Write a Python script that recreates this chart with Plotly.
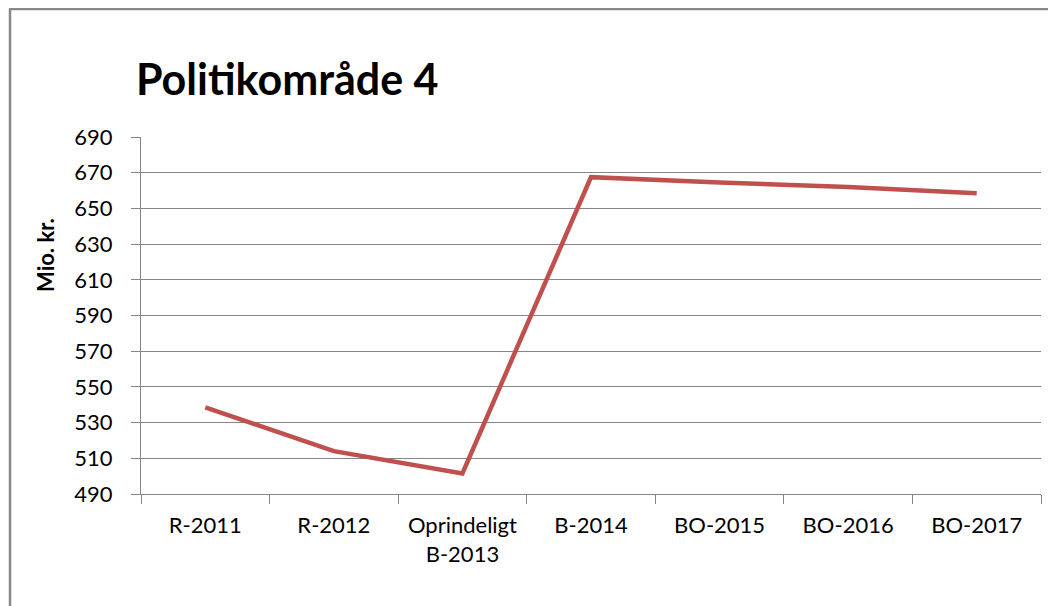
import plotly.graph_objects as go

# categories and values (Mio. kr.)
categories = ["R-2011", "R-2012", "Oprindeligt<br>B-2013", "B-2014", "BO-2015", "BO-2016", "BO-2017"]
values = [538.5, 514, 501.5, 667.5, 664.5, 662, 658.5]
y_ticks = [490, 510, 530, 550, 570, 590, 610, 630, 650, 670, 690]

# page is drawn with an 8px body margin, so work in page pixels and shift
OFF = 8
W, H = 1056 - OFF, 606 - OFF
L, R, T, B = 141, 1041, 137, 494  # plot area, page pixels


def px_x(p):
    return (p - L) / (R - L)


def px_y(p):
    return (B - p) / (B - T)


fig = go.Figure()
fig.add_trace(go.Scatter(
    x=categories,
    y=values,
    mode="lines",
    line=dict(color="#C0504D", width=4.5),
    showlegend=False,
))

grey = "#868686"
font = "Lato, 'Open Sans', sans-serif"

fig.update_layout(
    width=W, height=H,
    margin=dict(l=L - OFF, r=W - (R - OFF), t=T - OFF, b=H - (B - OFF), pad=0),
    paper_bgcolor="white",
    plot_bgcolor="white",
    font=dict(family=font, size=22, color="#000000"),
    xaxis=dict(
        type="category",
        showgrid=False,
        showline=True, linecolor=grey, linewidth=1,
        ticks="outside", tickson="boundaries", ticklen=9, tickcolor=grey,
        ticklabelstandoff=12,
        tickfont=dict(size=22),
        range=[-0.5, 6.5],
    ),
    yaxis=dict(
        range=[490, 690],
        tickvals=y_ticks,
        showgrid=True, gridcolor=grey, gridwidth=1,
        showline=True, linecolor=grey, linewidth=1,
        ticks="outside", ticklen=9, tickcolor=grey,
        ticklabelstandoff=14,
        tickfont=dict(size=22),
        zeroline=False,
    ),
    annotations=[
        dict(text="<b>Politikområde 4</b>", xref="paper", yref="paper",
             x=px_x(134), y=px_y(79), xanchor="left", yanchor="middle",
             showarrow=False, font=dict(size=43, family=font)),
        dict(text="<b>Mio. kr.</b>", xref="paper", yref="paper",
             x=px_x(45), y=px_y(255), xanchor="center", yanchor="middle",
             textangle=-90, showarrow=False, font=dict(size=22, family=font)),
    ],
    shapes=[
        dict(type="line", xref="paper", yref="paper",
             x0=px_x(10), y0=px_y(9), x1=px_x(10), y1=px_y(620),
             line=dict(color="#888888", width=2.5)),
        dict(type="line", xref="paper", yref="paper",
             x0=px_x(9), y0=px_y(9), x1=px_x(1070), y1=px_y(9),
             line=dict(color="#888888", width=2.5)),
    ],
)

fig.write_html("out.html")
